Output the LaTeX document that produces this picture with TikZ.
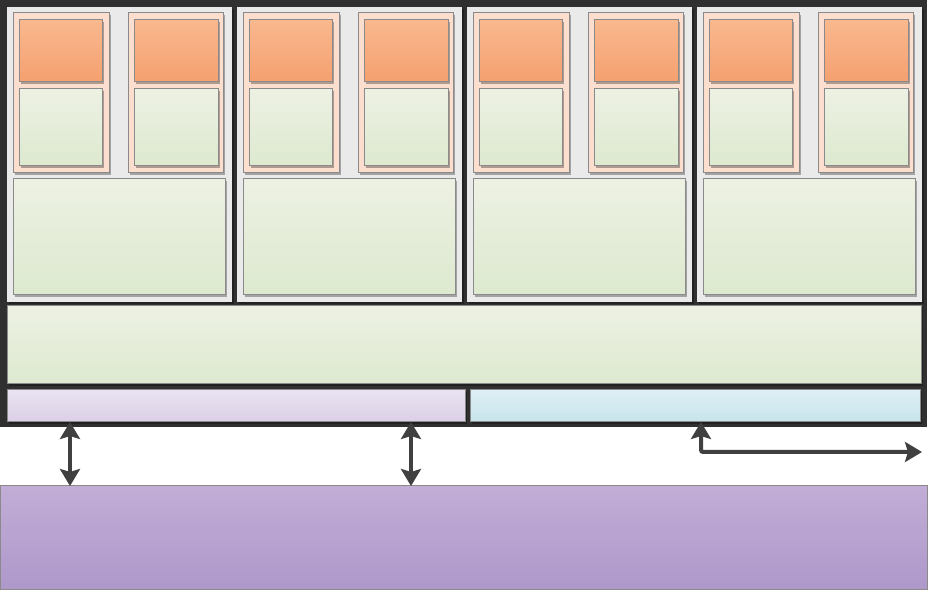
\documentclass[tikz,border=0pt]{standalone}
\usetikzlibrary{arrows.meta,positioning,shadows}
\definecolor{frdark}{RGB}{48,48,48}
\definecolor{bxgray}{RGB}{138,138,138}
\definecolor{panelgray}{RGB}{234,234,234}
\definecolor{peach}{RGB}{252,222,206}
\definecolor{orgtop}{RGB}{249,184,142}
\definecolor{orgbot}{RGB}{245,160,112}
\definecolor{grntop}{RGB}{237,241,227}
\definecolor{grnbot}{RGB}{221,233,207}
\definecolor{lavtop}{RGB}{233,227,241}
\definecolor{lavbot}{RGB}{219,207,230}
\definecolor{blutop}{RGB}{221,239,244}
\definecolor{blubot}{RGB}{199,228,236}
\definecolor{memtop}{RGB}{194,173,215}
\definecolor{membot}{RGB}{173,152,202}
\definecolor{arrgray}{RGB}{64,64,64}

\begin{document}
\begin{tikzpicture}[x=1pt, y=-1pt,
  box/.style={rectangle, anchor=north west, inner sep=0pt, outer sep=0pt,
    draw=bxgray, line width=1pt},
  shd/.style={drop shadow={shadow xshift=2pt, shadow yshift=-2pt,
    fill=black, opacity=0.3}},
  unit/.style={box, shd, top color=orgtop, bottom color=orgbot},
  cache/.style={box, shd, top color=grntop, bottom color=grnbot},
  arr/.style={{Stealth[length=17pt,width=20pt,inset=3pt]}-{Stealth[length=17pt,width=20pt,inset=3pt]},
    line width=4pt, arrgray}]
\useasboundingbox (0,0) rectangle (930,593);
% Chip frame
\node[rectangle, anchor=north west, inner sep=0pt, fill=frdark,
      minimum width=927pt, minimum height=427pt] (chip) at (0,0) {};
% Cores
\foreach \i in {0,...,3}{
  \pgfmathsetmacro\cx{5+230*\i}
  \node[box, draw=none, fill=panelgray, shd,
        minimum width=225pt, minimum height=295pt] (core\i) at ({\cx+2},7) {};
  \node[box, fill=peach, shd, minimum width=96pt, minimum height=160pt] (pa\i) at ({\cx+8},13) {};
  \node[unit, minimum width=83pt, minimum height=62pt] (ua\i) at ({\cx+14},20) {};
  \node[cache, minimum width=83pt, minimum height=77pt] (ca\i) at ({\cx+14},89) {};
  \node[box, fill=peach, shd, minimum width=95pt, minimum height=160pt] (pb\i) at ({\cx+123},13) {};
  \node[unit, minimum width=84pt, minimum height=62pt] (ub\i) at ({\cx+129},20) {};
  \node[cache, minimum width=84pt, minimum height=77pt] (cb\i) at ({\cx+129},89) {};
  \node[cache, minimum width=212pt, minimum height=116pt] (l2\i) at ({\cx+8},179) {};
}
% Shared cache and interfaces
\node[cache, minimum width=914pt, minimum height=78pt] (l3) at (7,306) {};
\node[box, shd, top color=lavtop, bottom color=lavbot,
      minimum width=458pt, minimum height=32pt] (memctl) at (7,390) {};
\node[box, shd, top color=blutop, bottom color=blubot,
      minimum width=450pt, minimum height=32pt] (io) at (470,390) {};
% Memory
\node[box, top color=memtop, bottom color=membot,
      minimum width=927pt, minimum height=104pt] (mem) at (0,486) {};
% Links
\coordinate (ax1) at (70,0);
\coordinate (ax2) at (411,0);
\coordinate (ax3) at (701,0);
\coordinate (ioout) at (922,452);
\draw[arr] (memctl.south -| ax1) -- (mem.north -| ax1);
\draw[arr] (memctl.south -| ax2) -- (mem.north -| ax2);
\draw[arr, rounded corners=2pt] (io.south -| ax3) |- (ioout);
\end{tikzpicture}
\end{document}
